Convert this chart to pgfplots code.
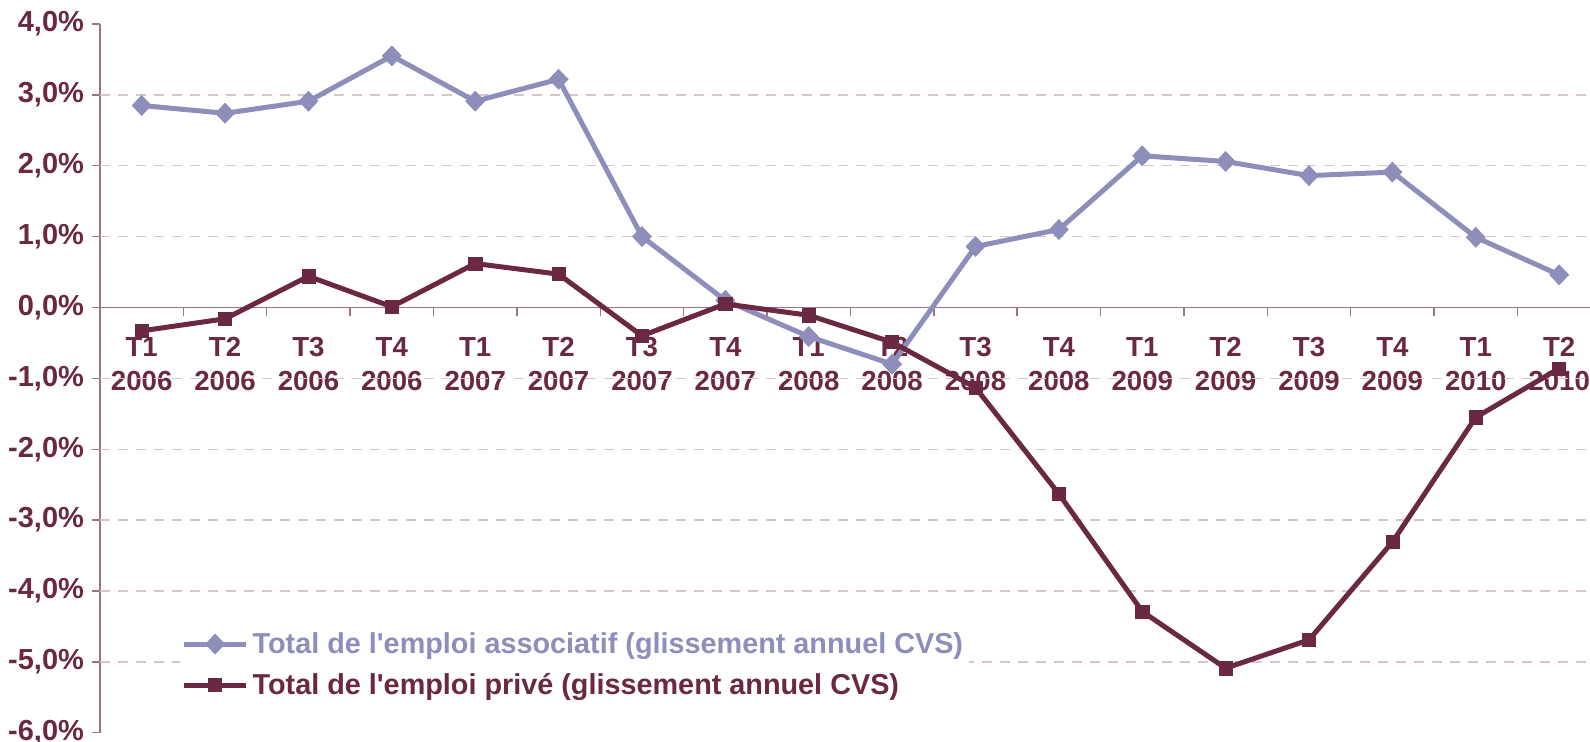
\documentclass[border=0pt]{standalone}
\usepackage{pgfplots}
\pgfplotsset{compat=1.18}
\usepackage{fontspec}
\setmainfont{Liberation Sans}
\definecolor{maroon}{RGB}{107,40,66}
\definecolor{lav}{RGB}{141,142,186}
\definecolor{gridc}{RGB}{216,196,204}
\definecolor{axc}{RGB}{160,112,132}
\begin{document}
\begin{tikzpicture}
\begin{axis}[
  at={(50pt,-366.35pt)}, anchor=south west,
  scale only axis, width=745pt, height=354.35pt,
  xmin=-0.5, xmax=17.37, ymin=-6, ymax=4,
  axis x line=middle, axis y line=left,
  axis line style={-, draw=axc, line width=0.7pt},
  xtick={0,...,17},
  xticklabels={{T1\\2006},{T2\\2006},{T3\\2006},{T4\\2006},{T1\\2007},{T2\\2007},{T3\\2007},{T4\\2007},{T1\\2008},{T2\\2008},{T3\\2008},{T4\\2008},{T1\\2009},{T2\\2009},{T3\\2009},{T4\\2009},{T1\\2010},{T2\\2010}},
  minor x tick num=1,
  major x tick style={draw=none},
  minor x tick style={draw=axc, line width=0.7pt},
  xtick align=outside, ytick align=outside,
  minor tick length=4.5pt, major tick length=4pt,
  ytick={-6,...,4},
  yticklabels={{-6,0\%},{-5,0\%},{-4,0\%},{-3,0\%},{-2,0\%},{-1,0\%},{0,0\%},{1,0\%},{2,0\%},{3,0\%},{4,0\%}},
  ytick style={draw=axc, line width=0.7pt},
  extra y ticks={-5,-4,-3,-2,-1,1,2,3},
  extra y tick labels={},
  extra y tick style={grid=major, major tick length=0pt},
  grid style={draw=gridc, line width=0.7pt, dash pattern=on 5pt off 4pt},
  ticklabel style={text=maroon},
  xticklabel style={font=\fontsize{13.8pt}{17pt}\selectfont\bfseries, align=center, anchor=north, yshift=-7.5pt},
  yticklabel style={font=\fontsize{14.5pt}{17pt}\selectfont\bfseries, anchor=east, xshift=-0.5pt},
  legend style={draw=none, fill=white, at={(axis cs:0.45,-5.04)}, anchor=west,
    font=\fontsize{14.4pt}{17pt}\selectfont\bfseries, row sep=4.5pt, inner sep=1pt},
  legend cell align=left,
  legend image code/.code={\draw[mark repeat=2,mark phase=2,#1] plot coordinates {(0pt,0pt)(15.5pt,0pt)(31pt,0pt)};},
]
\addplot[lav, line width=2.5pt, mark=diamond*, mark size=5pt, mark options={solid, fill=lav, draw=lav, xscale=1.27, line width=0.3pt}] coordinates {
(0,2.85)(1,2.74)(2,2.91)(3,3.55)(4,2.91)(5,3.22)(6,1.00)(7,0.10)(8,-0.41)(9,-0.80)(10,0.86)(11,1.10)(12,2.14)(13,2.06)(14,1.86)(15,1.91)(16,0.99)(17,0.46)};
\addlegendentry{\textcolor{lav}{Total de l\textquotesingle emploi associatif (glissement annuel CVS)}}
\addplot[maroon, line width=2.5pt, mark=square*, mark size=3.3pt, mark options={solid, fill=maroon, draw=maroon, line width=0.3pt}] coordinates {
(0,-0.33)(1,-0.16)(2,0.44)(3,0.01)(4,0.62)(5,0.47)(6,-0.40)(7,0.05)(8,-0.11)(9,-0.49)(10,-1.13)(11,-2.63)(12,-4.29)(13,-5.09)(14,-4.69)(15,-3.31)(16,-1.55)(17,-0.86)};
\addlegendentry{\textcolor{maroon}{Total de l\textquotesingle emploi privé (glissement annuel CVS)}}
\end{axis}
\pgfresetboundingbox
\path[use as bounding box] (0pt,0pt) rectangle (795pt,-371pt);
\end{tikzpicture}
\end{document}
